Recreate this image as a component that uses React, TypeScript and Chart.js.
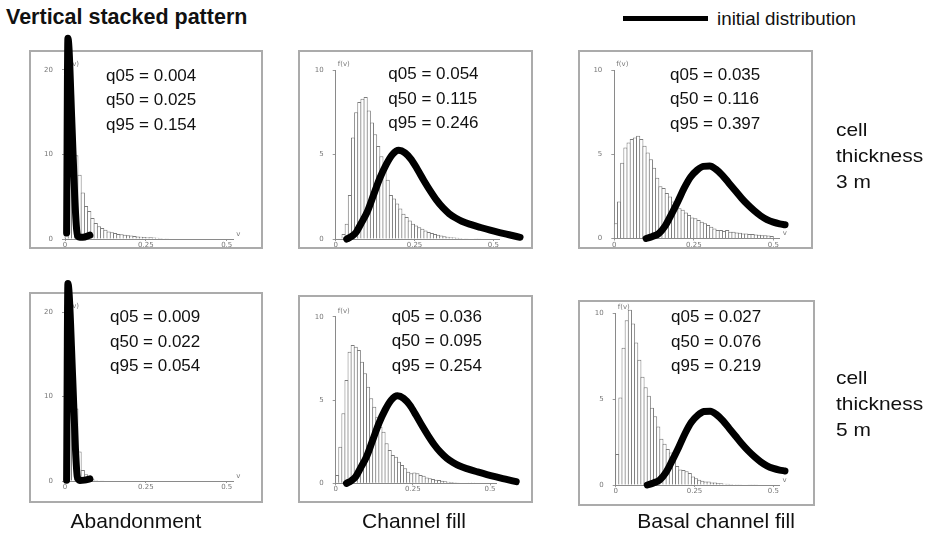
import React, { useEffect, useRef } from "react";
import { Chart, registerables } from "chart.js";
Chart.register(...registerables);

// ---------------- data ----------------
const BIN_WIDTH = 0.01;
const X_MAX = 0.52;
const X_TICKS = [0, 0.25, 0.5];
const X_TICK_LABELS = ["0", "0.25", "0.5"];
const Y_TICKS_ABANDON = [0, 10, 20];
const Y_TICKS_FILL = [0, 5, 10];

// histogram densities, one value per 0.01-wide bin starting at v = 0
const HIST_ABANDON_3M = [13, 20.7, 14.5, 9.9, 7.6, 5.5, 3.9, 3.3, 2.5, 1.9, 1.5, 1.3, 1.1, 0.9, 0.8, 0.7, 0.6, 0.55, 0.5, 0.45, 0.4, 0.35, 0.3, 0.28, 0.25, 0.22, 0.2, 0.18, 0.15, 0.12, 0.1, 0.08];
const HIST_CHANNEL_3M = [0, 0.05, 0.3, 0.9, 2.6, 6.0, 7.5, 8.1, 8.3, 8.4, 7.6, 6.9, 6.2, 5.5, 4.9, 4.1, 3.5, 2.6, 2.4, 2.1, 1.8, 1.5, 1.3, 1.1, 0.9, 0.8, 0.7, 0.6, 0.5, 0.42, 0.36, 0.3, 0.25, 0.2, 0.17, 0.14, 0.11, 0.09, 0.07, 0.06, 0.05, 0.04, 0.03, 0.03, 0.02, 0.02];
const HIST_BASAL_3M = [0.9, 2.2, 4.5, 5.4, 5.7, 5.9, 6.0, 6.1, 5.9, 5.5, 5.1, 4.7, 4.2, 3.6, 3.1, 3.0, 2.7, 2.5, 2.2, 2.0, 1.8, 1.7, 1.55, 1.4, 1.25, 1.2, 1.1, 1.0, 0.9, 0.8, 0.7, 0.6, 0.5, 0.5, 0.45, 0.5, 0.4, 0.4, 0.36, 0.34, 0.3, 0.3, 0.26, 0.26, 0.24, 0.22, 0.2, 0.2, 0.18, 0.15];
const HIST_ABANDON_5M = [20.9, 21.5, 15.5, 8.6, 3.5, 1.3, 0.8, 0.35, 0.2, 0.12, 0.06, 0.03];
const HIST_CHANNEL_5M = [0.5, 2.2, 4.2, 6.2, 7.9, 8.3, 8.2, 8.0, 7.3, 6.6, 5.8, 5.1, 4.6, 4.0, 3.4, 3.1, 2.4, 2.0, 1.7, 1.6, 1.3, 1.1, 0.9, 0.7, 0.6, 0.65, 0.6, 0.5, 0.45, 0.35, 0.3, 0.26, 0.22, 0.2, 0.15, 0.12, 0.1, 0.08, 0.06, 0.05, 0.04, 0.03, 0.03, 0.02, 0.02];
const HIST_BASAL_5M = [1.8, 5.1, 8.0, 9.6, 10.2, 9.4, 8.3, 7.3, 6.3, 5.7, 5.2, 4.5, 4.0, 3.4, 2.7, 2.4, 2.1, 1.9, 1.45, 1.1, 0.9, 0.87, 0.8, 0.7, 0.5, 0.4, 0.3, 0.25, 0.2, 0.2, 0.15, 0.15, 0.1, 0.1, 0.08, 0.07, 0.06, 0.05, 0.04, 0.04, 0.03, 0.03, 0.02, 0.02, 0.02];

// initial distributions (v, f(v))
const INIT_ABANDON_3M_V = [0.005, 0.009, 0.022, 0.03, 0.036, 0.042, 0.055, 0.077];
const INIT_ABANDON_3M_F = [0.7, 23.75, 13, 5.1, 1.1, 0.25, 0.2, 0.45];
const INIT_ABANDON_5M_V = [0.005, 0.009, 0.024, 0.032, 0.038, 0.046, 0.06, 0.077];
const INIT_ABANDON_5M_F = [0.1, 23.4, 12, 4.1, 0.5, 0.05, 0.1, 0.25];
const INIT_CHANNEL_V = [0.035, 0.05, 0.065, 0.08, 0.1, 0.12, 0.14, 0.16, 0.18, 0.2, 0.22, 0.24, 0.26, 0.28, 0.3, 0.32, 0.34, 0.36, 0.38, 0.4, 0.43, 0.46, 0.49, 0.52, 0.55, 0.585];
const INIT_CHANNEL_F = [0.0, 0.15, 0.4, 0.9, 1.6, 2.6, 3.6, 4.4, 5.0, 5.25, 5.1, 4.7, 4.1, 3.45, 2.85, 2.3, 1.85, 1.5, 1.25, 1.05, 0.85, 0.68, 0.52, 0.38, 0.25, 0.1];
const INIT_BASAL_V = [0.1, 0.12, 0.14, 0.16, 0.18, 0.2, 0.22, 0.24, 0.26, 0.28, 0.3, 0.32, 0.34, 0.36, 0.38, 0.4, 0.42, 0.44, 0.46, 0.48, 0.5, 0.52, 0.537];
const INIT_BASAL_F = [0.0, 0.12, 0.3, 0.75, 1.45, 2.2, 3.0, 3.65, 4.05, 4.28, 4.3, 4.1, 3.75, 3.3, 2.85, 2.4, 2.0, 1.65, 1.35, 1.12, 0.97, 0.87, 0.82];

const Q_ABANDON_3M = ["q05 = 0.004", "q50 = 0.025", "q95 = 0.154"];
const Q_CHANNEL_3M = ["q05 = 0.054", "q50 = 0.115", "q95 = 0.246"];
const Q_BASAL_3M = ["q05 = 0.035", "q50 = 0.116", "q95 = 0.397"];
const Q_ABANDON_5M = ["q05 = 0.009", "q50 = 0.022", "q95 = 0.054"];
const Q_CHANNEL_5M = ["q05 = 0.036", "q50 = 0.095", "q95 = 0.254"];
const Q_BASAL_5M = ["q05 = 0.027", "q50 = 0.076", "q95 = 0.219"];

const TITLE = "Vertical stacked pattern";
const LEGEND_LABEL = "initial distribution";
const COLUMN_LABELS = ["Abandonment", "Channel fill", "Basal channel fill"];
const ROW_LABELS = [
  ["cell", "thickness", "3 m"],
  ["cell", "thickness", "5 m"],
];

// ---------------- layout ----------------
const FONT = "'Liberation Sans', Arial, Helvetica, sans-serif";
const TICK_FONT = "DejaVu Sans";

type PanelCfg = {
  frame: [number, number, number, number];
  x0: number; x1: number; y0: number; yT: number; T: number; ymax: number;
  yTicks: number[];
  hist: number[]; cv: number[]; cf: number[];
  q: string[]; qLeft: number; qBase: number;
};

const PANELS: PanelCfg[] = [
  { frame: [29, 50, 263, 249], x0: 65, x1: 226.7, y0: 239, yT: 70, T: 20, ymax: 21, yTicks: Y_TICKS_ABANDON,
    hist: HIST_ABANDON_3M, cv: INIT_ABANDON_3M_V, cf: INIT_ABANDON_3M_F, q: Q_ABANDON_3M, qLeft: 106, qBase: 81 },
  { frame: [298, 50, 533, 249], x0: 335.7, x1: 493.3, y0: 239, yT: 70, T: 10, ymax: 10, yTicks: Y_TICKS_FILL,
    hist: HIST_CHANNEL_3M, cv: INIT_CHANNEL_V, cf: INIT_CHANNEL_F, q: Q_CHANNEL_3M, qLeft: 388.3, qBase: 79.5 },
  { frame: [578, 50, 813, 249], x0: 614.3, x1: 773.3, y0: 238.5, yT: 70, T: 10, ymax: 10, yTicks: Y_TICKS_FILL,
    hist: HIST_BASAL_3M, cv: INIT_BASAL_V, cf: INIT_BASAL_F, q: Q_BASAL_3M, qLeft: 670, qBase: 80 },
  { frame: [29, 292, 263, 503], x0: 65, x1: 226.7, y0: 481, yT: 312.3, T: 20, ymax: 20.5, yTicks: Y_TICKS_ABANDON,
    hist: HIST_ABANDON_5M, cv: INIT_ABANDON_5M_V, cf: INIT_ABANDON_5M_F, q: Q_ABANDON_5M, qLeft: 110, qBase: 322.7 },
  { frame: [298, 295, 533, 503], x0: 335.7, x1: 490, y0: 483.3, yT: 316.7, T: 10, ymax: 10, yTicks: Y_TICKS_FILL,
    hist: HIST_CHANNEL_5M, cv: INIT_CHANNEL_V, cf: INIT_CHANNEL_F, q: Q_CHANNEL_5M, qLeft: 391.7, qBase: 322.3 },
  { frame: [578, 300, 815, 506], x0: 615.7, x1: 773.3, y0: 485, yT: 313.3, T: 10, ymax: 10, yTicks: Y_TICKS_FILL,
    hist: HIST_BASAL_5M, cv: INIT_BASAL_V, cf: INIT_BASAL_F, q: Q_BASAL_5M, qLeft: 671, qBase: 322.7 },
];

const WY = 24;
const HX = 12;
const EXTRA_TOP = 30;
const EXTRA_BOTTOM = 15;

const axisNames = {
  id: "axisNames",
  beforeDatasetsDraw(chart: any, _args: any, opts: any) {
    const { ctx, chartArea } = chart;
    const ys = chart.scales.y;
    ctx.save();
    ctx.font = `7px ${TICK_FONT}`;
    ctx.fillStyle = "#777";
    ctx.textAlign = "left";
    ctx.textBaseline = "middle";
    ctx.fillText("f(v)", chartArea.left + 2, ys.getPixelForValue(opts.T) - 6);
    ctx.fillText("v", chartArea.right + 3, chartArea.bottom - 5);
    ctx.restore();
  },
};

function Panel({ cfg }: { cfg: PanelCfg }) {
  const ref = useRef<HTMLCanvasElement>(null);
  const [l, t, r, b] = cfg.frame;
  const cLeft = l;
  const cTop = t - EXTRA_TOP;
  const cW = r - l;
  const cH = b - t + EXTRA_TOP + EXTRA_BOTTOM;

  useEffect(() => {
    if (!ref.current) return;
    const areaLeft = cfg.x0;
    const areaRight = cfg.x0 + (cfg.x1 - cfg.x0) * (X_MAX / 0.5);
    const areaBottom = cfg.y0;
    const areaTop = cfg.y0 - (cfg.y0 - cfg.yT) * (cfg.ymax / cfg.T);
    const padding = {
      left: areaLeft - cLeft - WY,
      top: areaTop - cTop,
      right: cLeft + cW - areaRight,
      bottom: cTop + cH - areaBottom - HX,
    };
    const pxPerBin = BIN_WIDTH * (cfg.x1 - cfg.x0) / 0.5;
    const chart = new Chart(ref.current, {
      type: "bar",
      data: {
        datasets: [
          {
            type: "line",
            data: cfg.cv.map((v, i) => ({ x: v, y: cfg.cf[i] })),
            borderColor: "#000",
            borderWidth: 7,
            pointRadius: 0,
            cubicInterpolationMode: "monotone",
            borderCapStyle: "round",
            borderJoinStyle: "round",
            fill: false,
            clip: false,
            order: 0,
          } as any,
          {
            type: "bar",
            data: cfg.hist.map((f, i) => ({ x: BIN_WIDTH * (i + 0.5), y: f })),
            backgroundColor: "#ffffff",
            borderColor: "#7c7c7c",
            borderWidth: 1,
            barPercentage: 1,
            categoryPercentage: 1 + 1 / pxPerBin,
            clip: false,
            order: 1,
          } as any,
        ],
      },
      options: {
        responsive: false,
        animation: false,
        devicePixelRatio: 1,
        layout: { padding },
        plugins: { legend: { display: false }, tooltip: { enabled: false }, axisNames: { T: cfg.T } } as any,
        scales: {
          x: {
            type: "linear",
            bounds: "data",
            offset: false,
            afterDataLimits: (s: any) => { s.min = 0; s.max = X_MAX; },
            afterBuildTicks: (s: any) => { s.ticks = X_TICKS.map((v) => ({ value: v })); },
            afterFit: (s: any) => { s.height = HX; },
            grid: { display: true, drawOnChartArea: false, drawTicks: true, tickLength: 2, color: "#999", offset: false },
            border: { display: true, color: "#8a8a8a", width: 1 },
            ticks: {
              font: { family: TICK_FONT, size: 7 },
              color: "#777",
              padding: 0,
              maxRotation: 0,
              autoSkip: false,
              callback: (v: any) => { const i = X_TICKS.indexOf(Number(v)); return i >= 0 ? X_TICK_LABELS[i] : ""; },
            },
          },
          y: {
            type: "linear",
            min: 0,
            max: cfg.ymax,
            afterBuildTicks: (s: any) => { s.ticks = cfg.yTicks.map((v) => ({ value: v })); },
            afterFit: (s: any) => { s.width = WY; },
            grid: { display: true, drawOnChartArea: false, drawTicks: true, tickLength: 3, color: "#999" },
            border: { display: true, color: "#8a8a8a", width: 1 },
            ticks: {
              font: { family: TICK_FONT, size: 7 },
              color: "#777",
              padding: 9,
              autoSkip: false,
              callback: (v: any) => String(v),
            },
          },
        } as any,
      },
      plugins: [axisNames],
    });
    return () => chart.destroy();
  }, []);

  return (
    <>
      <div
        style={{
          position: "absolute", left: l, top: t, width: r - l, height: b - t,
          boxSizing: "border-box", border: "2px solid #ababab", background: "#fff",
        }}
      />
      <canvas
        ref={ref}
        width={cW}
        height={cH}
        style={{ position: "absolute", left: cLeft, top: cTop, width: cW, height: cH }}
      />
      {cfg.q.map((s, i) => (
        <TextAt key={i} x={cfg.qLeft} baseline={cfg.qBase + i * 24.5} size={17} text={s} />
      ))}
    </>
  );
}

function TextAt({ x, baseline, size, text, bold, scaleX, center }: {
  x: number; baseline: number; size: number; text: string; bold?: boolean; scaleX?: number; center?: boolean;
}) {
  const top = baseline - 0.8465 * size;
  const style: React.CSSProperties = {
    position: "absolute",
    top,
    fontFamily: FONT,
    fontSize: size,
    lineHeight: `${size}px`,
    fontWeight: bold ? "bold" : "normal",
    color: "#111",
    whiteSpace: "nowrap",
  };
  if (center) {
    style.left = x - 200;
    style.width = 400;
    style.textAlign = "center";
  } else {
    style.left = x;
  }
  if (scaleX) {
    style.transform = `scaleX(${scaleX})`;
    style.transformOrigin = center ? "center" : "left";
  }
  return <div style={style}>{text}</div>;
}

export default function App() {
  const colCenters = [136, 414, 716];
  const rowBases = [136.7, 385];
  return (
    <div style={{ position: "absolute", left: 0, top: 0, width: 927, height: 534, background: "#fff", overflow: "hidden" }}>
      <TextAt x={6} baseline={25} size={21.5} text={TITLE} bold />
      <div style={{ position: "absolute", left: 623, top: 15.8, width: 85, height: 5, background: "#000" }} />
      <TextAt x={717} baseline={25} size={18} text={LEGEND_LABEL} scaleX={1.045} />
      {PANELS.map((p, i) => <Panel key={i} cfg={p} />)}
      {ROW_LABELS.map((lines, r) =>
        lines.map((s, i) => (
          <TextAt key={`${r}-${i}`} x={836} baseline={rowBases[r] + i * 26} size={18.5} text={s} scaleX={1.13} />
        ))
      )}
      {COLUMN_LABELS.map((s, i) => (
        <TextAt key={i} x={colCenters[i]} baseline={528} size={21} text={s} center />
      ))}
    </div>
  );
}
